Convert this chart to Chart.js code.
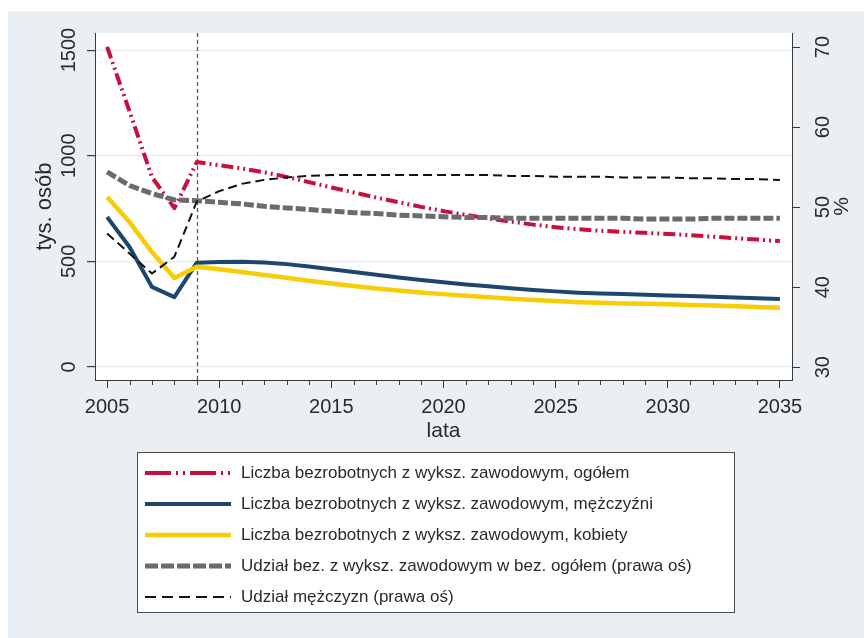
<!DOCTYPE html>
<html>
<head>
<meta charset="utf-8">
<script src="https://cdn.jsdelivr.net/npm/chart.js@4.4.0/dist/chart.umd.min.js"></script>
<style>
  html, body { margin: 0; padding: 0; background: #ffffff; }
  #wrap { width: 864px; height: 638px; }
</style>
</head>
<body>
<div id="wrap"><canvas id="chart" width="864" height="638"></canvas></div>
<script>
// Years of observation and projection
const years = [2005, 2006, 2007, 2008, 2009, 2010, 2011, 2012, 2013, 2014, 2015,
  2016, 2017, 2018, 2019, 2020, 2021, 2022, 2023, 2024, 2025,
  2026, 2027, 2028, 2029, 2030, 2031, 2032, 2033, 2034, 2035];

// Unemployed with vocational education, thousands (left axis)
const totalUnemployed = [1515, 1210, 899, 752, 970, 955, 940, 922, 900, 875, 850,
  826, 802, 780, 758, 738, 720, 703, 688, 674, 662,
  652, 645, 640, 635, 630, 624, 617, 610, 603, 596];
const menUnemployed = [710, 568, 379, 331, 494, 497, 498, 495, 487, 476, 463,
  450, 437, 424, 412, 401, 391, 382, 373, 365, 358,
  352, 348, 345, 342, 339, 336, 333, 329, 326, 322];
const womenUnemployed = [805, 686, 544, 421, 475, 463, 450, 436, 422, 408, 395,
  383, 372, 362, 353, 345, 337, 330, 323, 317, 312,
  307, 304, 301, 299, 297, 294, 291, 288, 284, 280];

// Shares in percent (right axis)
const vocationalShare = [54.4, 52.7, 51.7, 50.9, 50.8, 50.6, 50.4, 50.1, 49.9, 49.7, 49.5,
  49.3, 49.2, 49.0, 48.9, 48.8, 48.7, 48.7, 48.6, 48.6, 48.6,
  48.6, 48.6, 48.6, 48.5, 48.5, 48.5, 48.6, 48.6, 48.6, 48.6];
const menShare = [46.7, 44.2, 41.7, 43.8, 50.7, 52.0, 52.9, 53.4, 53.7, 53.9, 54.0,
  54.0, 54.0, 54.0, 54.0, 54.0, 54.0, 54.0, 53.9, 53.9, 53.8,
  53.8, 53.8, 53.7, 53.7, 53.7, 53.6, 53.6, 53.5, 53.5, 53.4];

// Tick labels
const xTicks = [2005, 2010, 2015, 2020, 2025, 2030, 2035];
const leftTicks = [0, 500, 1000, 1500];
const rightTicks = [30, 40, 50, 60, 70];

// Last year of observed data (start of projection)
const projectionStart = 2009;

const seriesLabels = [
  'Liczba bezrobotnych z wyksz. zawodowym, ogółem',
  'Liczba bezrobotnych z wyksz. zawodowym, mężczyźni',
  'Liczba bezrobotnych z wyksz. zawodowym, kobiety',
  'Udział bez. z wyksz. zawodowym w bez. ogółem (prawa oś)',
  'Udział mężczyzn (prawa oś)'
];

const FONT = '"Liberation Sans", Arial, sans-serif';
const TEXT = '#2a2a2a';
const AXIS = '#3a3a3a';

const toPoints = arr => years.map((y, i) => ({ x: y, y: arr[i] }));

const styles = [
  { color: '#c8103e', width: 4,   dash: [12, 4, 2, 4, 2, 4], legendDash: [26, 5, 2, 5, 2, 5] },
  { color: '#1c466e', width: 4,   dash: [],                   legendDash: [] },
  { color: '#f7cd06', width: 4.5, dash: [],                   legendDash: [] },
  { color: '#6b6b6b', width: 5,   dash: [10, 3],              legendDash: [13, 3] },
  { color: '#111111', width: 2,   dash: [9, 5],               legendDash: [11, 6] }
];
const seriesData = [totalUnemployed, menUnemployed, womenUnemployed, vocationalShare, menShare];
const axisOf = ['yL', 'yL', 'yL', 'yR', 'yR'];

const datasets = seriesData.map((arr, i) => ({
  label: seriesLabels[i],
  data: toPoints(arr),
  yAxisID: axisOf[i],
  borderColor: styles[i].color,
  borderWidth: styles[i].width,
  borderDash: styles[i].dash,
  borderJoinStyle: 'round',
  pointRadius: 0,
  tension: 0,
  fill: false,
  order: 5 - i
}));

const fixTicks = list => scale => { scale.ticks = list.map(v => ({ value: v })); };

function rotatedText(ctx, text, x, y) {
  ctx.save();
  ctx.translate(x, y);
  ctx.rotate(-Math.PI / 2);
  ctx.fillText(text, 0, 0);
  ctx.restore();
}

const framePlugin = {
  id: 'frame',
  beforeDraw(chart) {
    const { ctx, chartArea: a, width, height } = chart;
    ctx.save();
    ctx.fillStyle = '#ffffff';
    ctx.fillRect(0, 0, width, height);
    ctx.fillStyle = '#e9eff2';
    ctx.fillRect(8, 11, width - 8, height - 11);
    ctx.fillStyle = '#ffffff';
    ctx.fillRect(a.left, a.top, a.right - a.left, a.bottom - a.top);
    ctx.restore();
  },
  beforeDatasetsDraw(chart) {
    const { ctx, chartArea: a, scales } = chart;
    const x = Math.round(scales.x.getPixelForValue(projectionStart)) + 0.5;
    ctx.save();
    ctx.strokeStyle = '#5a5a5a';
    ctx.lineWidth = 1.3;
    ctx.setLineDash([4, 3]);
    ctx.beginPath();
    ctx.moveTo(x, a.top);
    ctx.lineTo(x, a.bottom);
    ctx.stroke();
    ctx.restore();
  },
  afterDraw(chart) {
    const { ctx, chartArea: a, scales } = chart;
    const xs = scales.x, yl = scales.yL, yr = scales.yR;
    ctx.save();

    // minor ticks on the year axis
    ctx.strokeStyle = AXIS;
    ctx.lineWidth = 1;
    years.forEach(y => {
      if (xTicks.includes(y)) return;
      const px = Math.round(xs.getPixelForValue(y)) + 0.5;
      ctx.beginPath();
      ctx.moveTo(px, a.bottom);
      ctx.lineTo(px, a.bottom + 5);
      ctx.stroke();
    });

    ctx.fillStyle = TEXT;
    ctx.textAlign = 'center';
    ctx.textBaseline = 'middle';

    // year labels and axis title
    ctx.font = '20px ' + FONT;
    xs.ticks.forEach(t => ctx.fillText(String(t.value), xs.getPixelForValue(t.value), a.bottom + 27));
    ctx.font = '21px ' + FONT;
    ctx.fillText('lata', (a.left + a.right) / 2, a.bottom + 51);

    // left axis labels (rotated)
    ctx.font = '20px ' + FONT;
    yl.ticks.forEach(t => rotatedText(ctx, String(t.value), a.left - 26, yl.getPixelForValue(t.value)));
    ctx.font = '22px ' + FONT;
    rotatedText(ctx, 'tys. osób', a.left - 50, (a.top + a.bottom) / 2);

    // right axis labels (rotated)
    ctx.font = '20px ' + FONT;
    yr.ticks.forEach(t => rotatedText(ctx, String(t.value), a.right + 31, yr.getPixelForValue(t.value)));
    ctx.font = '21px ' + FONT;
    rotatedText(ctx, '%', a.right + 50, (a.top + a.bottom) / 2);

    // legend box
    const box = { x: 137.5, y: 452.5, w: 597, h: 160 };
    ctx.fillStyle = '#ffffff';
    ctx.fillRect(box.x, box.y, box.w, box.h);
    ctx.strokeStyle = '#4a4a4a';
    ctx.lineWidth = 1;
    ctx.strokeRect(box.x, box.y, box.w, box.h);

    ctx.font = '17px ' + FONT;
    ctx.textAlign = 'left';
    chart.data.datasets.forEach((ds, i) => {
      const yRow = 473 + i * 31;
      const st = styles[i];
      ctx.save();
      ctx.strokeStyle = st.color;
      ctx.lineWidth = st.width;
      ctx.setLineDash(st.legendDash);
      ctx.beginPath();
      ctx.moveTo(145, yRow);
      ctx.lineTo(231, yRow);
      ctx.stroke();
      ctx.restore();
      ctx.fillStyle = TEXT;
      ctx.fillText(ds.label, 241, yRow);
    });

    ctx.restore();
  }
};

new Chart(document.getElementById('chart'), {
  type: 'line',
  data: { datasets },
  options: {
    responsive: false,
    animation: false,
    devicePixelRatio: 1,
    layout: { padding: { top: 33, bottom: 188, left: 0, right: 0 } },
    plugins: { legend: { display: false }, tooltip: { enabled: false } },
    scales: {
      x: {
        type: 'linear',
        min: 2004.46,
        max: 2035.54,
        afterBuildTicks: fixTicks(xTicks),
        afterFit: s => { s.height = 70; },
        ticks: { display: false },
        grid: { drawOnChartArea: false, tickLength: 8, color: AXIS, tickColor: AXIS },
        border: { color: AXIS, width: 1 }
      },
      yL: {
        type: 'linear',
        position: 'left',
        min: -61.5,
        max: 1581,
        afterBuildTicks: fixTicks(leftTicks),
        afterFit: s => { s.width = 95; },
        ticks: { display: false },
        grid: { color: '#e6ecee', lineWidth: 1.2, tickLength: 8, tickColor: AXIS },
        border: { color: AXIS, width: 1 }
      },
      yR: {
        type: 'linear',
        position: 'right',
        min: 28.4,
        max: 71.75,
        afterBuildTicks: fixTicks(rightTicks),
        afterFit: s => { s.width = 72; },
        ticks: { display: false },
        grid: { drawOnChartArea: false, tickLength: 8, color: AXIS, tickColor: AXIS },
        border: { color: AXIS, width: 1 }
      }
    }
  },
  plugins: [framePlugin]
});
</script>
</body>
</html>
